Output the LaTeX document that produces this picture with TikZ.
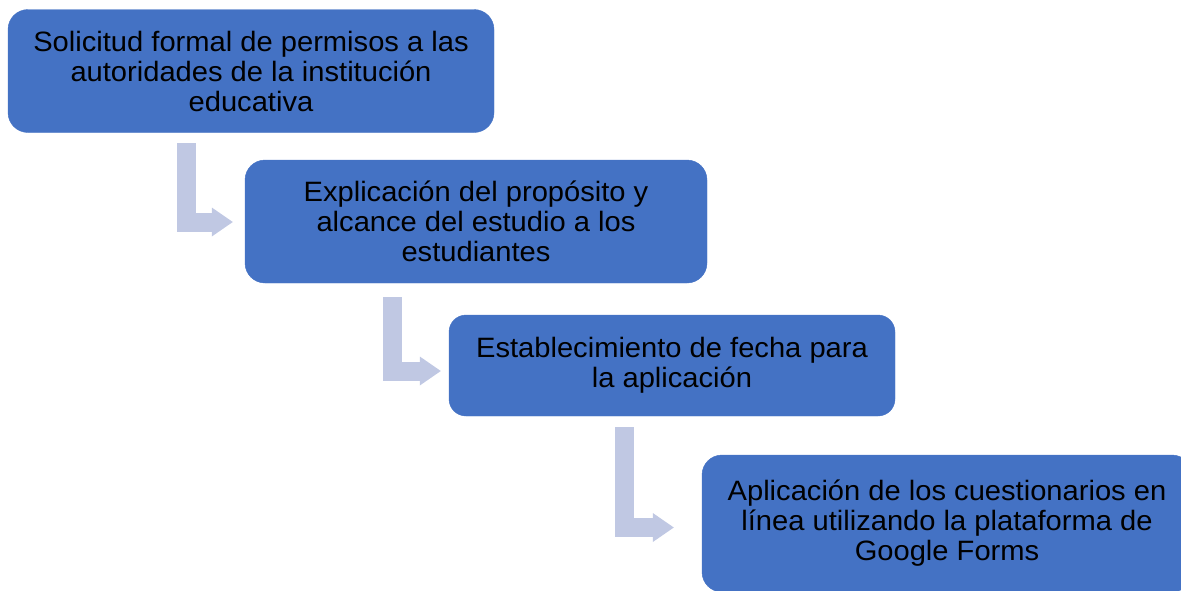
\documentclass[tikz,border=0pt]{standalone}
\usepackage{fontspec}
\setmainfont{Liberation Sans}[FakeStretch=1.04]
\usepackage{tikz}
\usetikzlibrary{arrows.meta}
\definecolor{boxBlue}{HTML}{4472C4}
\definecolor{arrowLav}{HTML}{C0C8E3}
\tikzstyle{stageBox} = [rectangle,fill=boxBlue,draw=boxBlue,inner sep=0pt,align=center,font=\fontsize{28}{30}\selectfont]
\tikzstyle{bentArrow} = [draw=arrowLav,line width=19pt,line join=miter,-{Triangle[length=21pt,width=29pt,line width=0pt]}]

\begin{document}
\begin{tikzpicture}[x=1pt,y=1pt]
			\useasboundingbox (0,0) rectangle (1181,-590);
			\node[stageBox,rounded corners=20pt,minimum width=486pt,minimum height=123pt] (n1) at (251,-71) {Solicitud formal de permisos a las\\autoridades de la institución\\educativa};
			\node[stageBox,rounded corners=20pt,minimum width=462pt,minimum height=123pt] (n2) at (476,-221.5) {Explicación del propósito y\\alcance del estudio a los\\estudiantes};
			\node[stageBox,rounded corners=17pt,minimum width=446pt,minimum height=101pt] (n3) at (672,-365.5) {Establecimiento de fecha para\\la aplicación};
			\node[stageBox,rounded corners=20pt,minimum width=490pt,minimum height=137pt] (n4) at (947,-523.5) {Aplicación de los cuestionarios en\\línea utilizando la plataforma de\\Google Forms};
			
			\coordinate (a1) at (186,-143);
			\coordinate (a2) at (392.5,-297);
			\coordinate (a3) at (624.5,-427);
			\draw[bentArrow] (a1) |- ([xshift=-12pt,yshift=-0.5pt]n2.west);
			\draw[bentArrow] (a2) |- ([xshift=-8pt,yshift=-5.5pt]n3.west);
			\draw[bentArrow] (a3) |- ([xshift=-28pt,yshift=-4pt]n4.west);
			
		\end{tikzpicture}
\end{document}
